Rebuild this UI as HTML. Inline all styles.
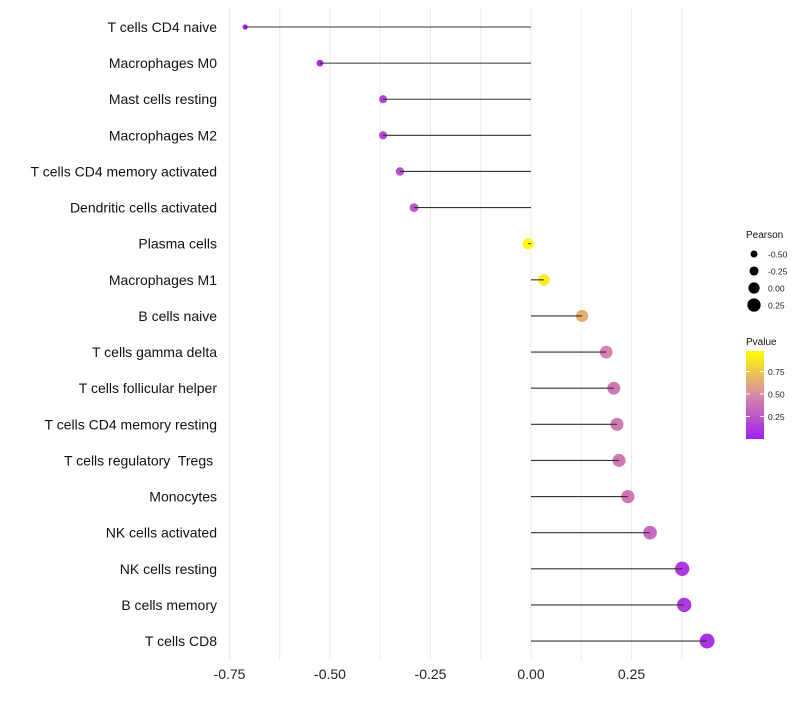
<!DOCTYPE html>
<html><head><meta charset="utf-8"><style>
body{margin:0;background:#fff;font-family:"Liberation Sans",sans-serif}
text{white-space:pre}
</style></head><body>
<svg id="c" width="800" height="700" xmlns="http://www.w3.org/2000/svg" style="font-family:'Liberation Sans',sans-serif"></svg>
<script>
const categories=["T cells CD4 naive","Macrophages M0","Mast cells resting","Macrophages M2","T cells CD4 memory activated","Dendritic cells activated","Plasma cells","Macrophages M1","B cells naive","T cells gamma delta","T cells follicular helper","T cells CD4 memory resting","T cells regulatory  Tregs ","Monocytes","NK cells activated","NK cells resting","B cells memory","T cells CD8"];
const pearson=[-0.711,-0.525,-0.368,-0.368,-0.326,-0.291,-0.007,0.032,0.127,0.187,0.206,0.214,0.219,0.241,0.296,0.376,0.381,0.438];
const pvalue=[0.01,0.04,0.18,0.18,0.22,0.26,0.98,0.92,0.66,0.46,0.42,0.42,0.42,0.40,0.34,0.12,0.12,0.08];
const xTicks=[-0.75,-0.5,-0.25,0,0.25];
const xTickLabels=["-0.75","-0.50","-0.25","0.00","0.25"];
const sizeLegend=[-0.5,-0.25,0,0.25];
const sizeLegendLabels=["-0.50","-0.25","0.00","0.25"];
const pLegend=[0.25,0.5,0.75];
const pLegendLabels=["0.25","0.50","0.75"];

const svg=document.getElementById('c');const NS="http://www.w3.org/2000/svg";
function mk(t,a,p){const e=document.createElementNS(NS,t);for(const k in a)e.setAttribute(k,a[k]);(p||svg).appendChild(e);return e;}
const x=v=>531+v*402;
const y=i=>27+i*36.12;
const r=v=>5.6+4.2*v;
function lerp(a,b,t){return a.map((c,i)=>Math.round(c+(b[i]-c)*t));}
function col(p){const A=[160,32,240],B=[216,138,168],C=[255,255,0];const c=p<0.5?lerp(A,B,p/0.5):lerp(B,C,(p-0.5)/0.5);return `rgb(${c})`;}
for(let g=-0.75;g<=0.44;g+=0.125){const l=mk('line',{x1:x(g),x2:x(g),y1:8,y2:660,stroke:'#ebebeb','stroke-width':1});}
xTicks.forEach((t,i)=>{const e=mk('text',{x:x(t),y:679,'text-anchor':'middle','font-size':14,fill:'#222'});e.textContent=xTickLabels[i];});
categories.forEach((c,i)=>{
const t=mk('text',{x:217,y:y(i)+5,'text-anchor':'end','font-size':14,fill:'#111'});t.textContent=c;

const pt=mk('circle',{cx:x(pearson[i]),cy:y(i),r:r(pearson[i]),fill:col(pvalue[i])});

const s=mk('line',{x1:x(0),x2:x(pearson[i]),y1:y(i),y2:y(i),stroke:'#333','stroke-width':1.1});

});
let lt=mk('text',{x:746,y:238,'font-size':10,fill:'#111'});lt.textContent='Pearson';
sizeLegend.forEach((v,i)=>{const yy=254+i*17;const c=mk('circle',{cx:754,cy:yy,r:r(v),fill:'#000'});
const t=mk('text',{x:768,y:yy+3.5,'font-size':8.5,fill:'#222'});t.textContent=sizeLegendLabels[i];});
let pt2=mk('text',{x:746,y:345,'font-size':10,fill:'#111'});pt2.textContent='Pvalue';
const defs=mk('defs',{});const gr=mk('linearGradient',{id:'pg',x1:0,y1:1,x2:0,y2:0},defs);
[[0,0],[0.5,0.5],[1,1]].forEach(([o,p])=>mk('stop',{offset:o,'stop-color':col(p)},gr));
const bar=mk('rect',{x:746,y:351,width:18,height:88,fill:'url(#pg)'});
const py=p=>439-p*90;
pLegend.forEach((p,i)=>{mk('line',{x1:746,x2:750,y1:py(p),y2:py(p),stroke:'#fff'});mk('line',{x1:760,x2:764,y1:py(p),y2:py(p),stroke:'#fff'});
const t=mk('text',{x:768,y:py(p)+3.5,'font-size':8.5,fill:'#222'});t.textContent=pLegendLabels[i];});
</script>
</body></html>
